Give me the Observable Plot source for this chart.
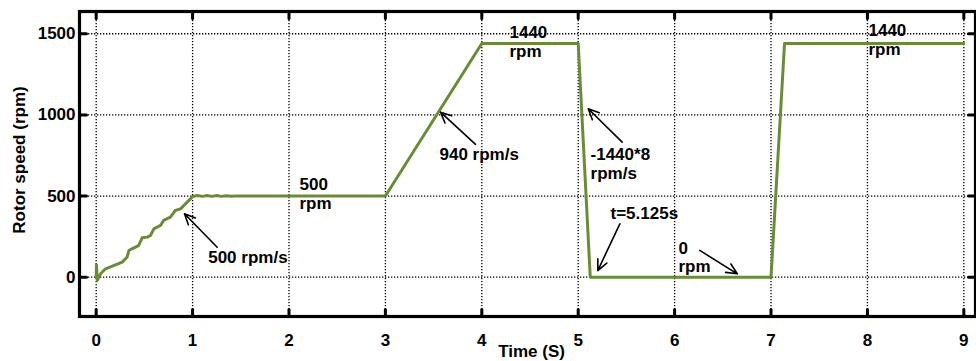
<!DOCTYPE html>
<html>
<head>
<meta charset="utf-8">
<script src="https://cdn.jsdelivr.net/npm/d3@7"></script>
<script src="https://cdn.jsdelivr.net/npm/@observablehq/plot@0.6"></script>
<style>
  html, body { margin: 0; padding: 0; background: #fff; }
  svg { display: block; }
</style>
</head>
<body>
<div id="chart"></div>
<script>
// Rotor speed trace (time in s, speed in rpm)
const time = [0, 0.003, 0.012, 0.045, 0.097, 0.18, 0.27, 0.32, 0.34, 0.37, 0.44, 0.477, 0.53, 0.563, 0.598, 0.667, 0.70, 0.77, 0.82, 0.875, 0.926, 0.978, 1.0, 1.05, 1.1, 1.15, 1.2, 1.25, 1.3, 1.35, 1.4, 1.45, 1.5, 2.0, 3.0, 4.0, 5.0, 5.125, 7.0, 7.14, 9.0];
const speed = [0, 75, -20, 21, 52, 72, 93, 123, 165, 175, 195, 243, 247, 257, 298, 319, 350, 370, 411, 421, 452, 483, 497, 503, 498, 503, 498, 503, 498, 502, 499, 501, 500, 500, 500, 1440, 1440, 0, 0, 1440, 1440];

const xTicks = [0, 1, 2, 3, 4, 5, 6, 7, 8, 9];
const yTicks = [0, 500, 1000, 1500];

// annotation labels (anchor at top-left of text, data coords)
const labelText = ["500 rpm/s", "500\nrpm", "1440\nrpm", "940 rpm/s", "-1440*8\nrpm/s", "t=5.125s", "0\nrpm", "1440\nrpm"];
const labelT = [1.162, 2.109, 4.287, 3.561, 5.128, 5.335, 6.040, 8.011];
const labelV = [165, 615, 1552, 800, 800, 442, 226, 1564];

// annotation arrows (from -> to, data coords)
const arrowT1 = [1.255, 3.935, 5.456, 5.432, 6.261];
const arrowV1 = [185, 818, 832, 329, 165];
const arrowT2 = [0.916, 3.572, 5.104, 5.203, 6.65];
const arrowV2 = [391, 1017, 1038, 41, 21];

const trace = time.map((t, i) => ({t, v: speed[i]}));
const labels = labelText.map((s, i) => ({s, t: labelT[i], v: labelV[i]}));
const arrows = arrowT1.map((t, i) => ({t1: t, v1: arrowV1[i], t2: arrowT2[i], v2: arrowV2[i]}));

const tickShape = {draw(ctx, l) { ctx.moveTo(0, 0); ctx.lineTo(0, -l); }};
const font = "'Liberation Sans', Arial, Helvetica, sans-serif";
const tickLen = 7;

const chart = Plot.plot({
  width: 976,
  height: 361,
  marginLeft: 79,
  marginRight: 1,
  marginTop: 11,
  marginBottom: 45,
  style: {fontFamily: font, fontWeight: "bold", fontSize: "17px", color: "black", background: "white"},
  x: {domain: [-0.173, 9.121]},
  y: {domain: [-242, 1637]},
  marks: [
    Plot.gridX(xTicks, {stroke: "black", strokeOpacity: 1, strokeWidth: 1.3, strokeDasharray: "1.3,1.7"}),
    Plot.gridY(yTicks, {stroke: "black", strokeOpacity: 1, strokeWidth: 1.3, strokeDasharray: "1.3,1.7"}),
    Plot.axisX(xTicks, {tickSize: 0, tickPadding: 17, tickFormat: d3.format("d"), fontSize: 17, fontWeight: "bold", label: null}),
    Plot.axisY(yTicks, {tickSize: 0, tickPadding: 4, tickFormat: d3.format("d"), fontSize: 17, fontWeight: "bold", label: null}),
    Plot.vector(xTicks, {x: d => d, frameAnchor: "bottom", rotate: 0, length: tickLen, anchor: "start", shape: tickShape, stroke: "black", strokeWidth: 3}),
    Plot.vector(xTicks, {x: d => d, frameAnchor: "top", rotate: 180, length: tickLen, anchor: "start", shape: tickShape, stroke: "black", strokeWidth: 3}),
    Plot.vector(yTicks, {y: d => d, frameAnchor: "left", rotate: 90, length: tickLen, anchor: "start", shape: tickShape, stroke: "black", strokeWidth: 3}),
    Plot.vector(yTicks, {y: d => d, frameAnchor: "right", rotate: -90, length: tickLen, anchor: "start", shape: tickShape, stroke: "black", strokeWidth: 3}),
    Plot.line(trace, {x: "t", y: "v", stroke: "#6b8c35", strokeWidth: 3, strokeLinejoin: "round"}),
    Plot.arrow(arrows, {x1: "t1", y1: "v1", x2: "t2", y2: "v2", stroke: "black", strokeWidth: 1.6, headLength: 11, headAngle: 50}),
    Plot.text(labels, {x: "t", y: "v", text: "s", textAnchor: "start", lineAnchor: "top", lineHeight: 1.08, fontSize: 17, fontWeight: "bold", fill: "black"}),
    Plot.frame({stroke: "black", strokeWidth: 3.2}),
    Plot.text(["Time (S)"], {frameAnchor: "bottom", dy: 40, dx: 4, textAnchor: "middle", lineAnchor: "bottom", fontSize: 17, fontWeight: "bold", fill: "black"}),
    Plot.text(["Rotor speed (rpm)"], {frameAnchor: "left", dx: -59.5, dy: -4, rotate: -90, textAnchor: "middle", lineAnchor: "middle", fontSize: 17, fontWeight: "bold", fill: "black"})
  ]
});
document.getElementById("chart").appendChild(chart);
</script>
</body>
</html>
